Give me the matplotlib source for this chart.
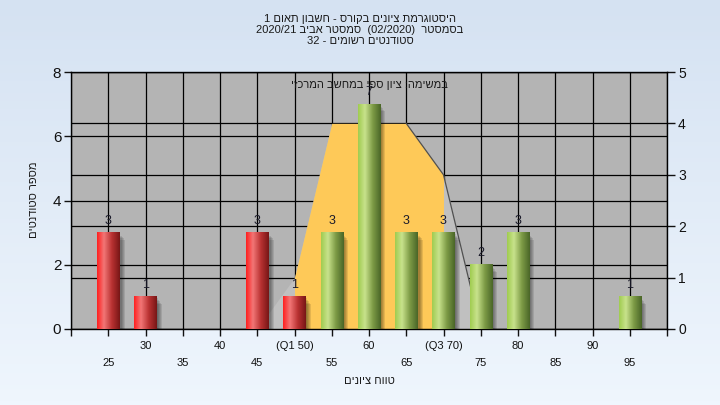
import re
import matplotlib
matplotlib.use('Agg')
import matplotlib.pyplot as plt
import numpy as np
from matplotlib.patches import Rectangle

plt.rcParams['font.family'] = ['Liberation Sans', 'DejaVu Sans']

# histogram data
grades = [25, 30, 35, 40, 45, 50, 55, 60, 65, 70, 75, 80, 85, 90, 95]
counts = [3, 1, 0, 0, 3, 1, 3, 7, 3, 3, 2, 3, 0, 0, 1]
tick_labels = ['25', '30', '35', '40', '45', '(Q1 50)', '55', '60', '65',
               '(Q3 70)', '75', '80', '85', '90', '95']
pass_grade = 55

# area on secondary axis (0-5)
area_x = [45, 50, 55, 60, 65, 70, 75]
area_y = [0, 1, 4, 4, 4, 3, 0]
q1, q3 = 50, 70

title_lines = ['היסטוגרמת ציונים בקורס - חשבון תאום 1',
               'בסמסטר  (02/2020)  סמסטר אביב 2020/21',
               'סטודנטים רשומים - 32']
note = 'במשימה: ציון ספי במחשב המרכזי'
xlabel = 'טווח ציונים'
ylabel = 'מספר סטודנטים'


def rtl(s):
    # crude bidi: matplotlib draws glyphs left to right only
    runs = re.split(r'([0-9A-Za-z](?:[0-9A-Za-z/.]*[0-9A-Za-z])?)', s)
    out = []
    mirror = str.maketrans('()', ')(')
    for i, r in enumerate(runs[::-1]):
        if re.fullmatch(r'[0-9A-Za-z](?:[0-9A-Za-z/.]*[0-9A-Za-z])?', r):
            out.append(r)
        else:
            out.append(r[::-1].translate(mirror))
    return ''.join(out)


def gradient(stops):
    pos = np.linspace(0, 1, 60)
    p = [s[0] for s in stops]
    rgb = np.array([[np.interp(t, p, [s[1][i] for s in stops]) for i in range(3)] for t in pos])
    return (rgb / 255.0)[None, :, :]


red_grad = gradient([(0, (255, 32, 32)), (0.3, (242, 118, 118)), (0.65, (185, 50, 50)), (1, (120, 22, 22))])
green_grad = gradient([(0, (160, 204, 80)), (0.3, (200, 226, 140)), (0.65, (125, 155, 70)), (1, (74, 102, 40))])

fig = plt.figure(figsize=(7.2, 4.05), dpi=100)

# background gradient
bg = fig.add_axes([0, 0, 1, 1], zorder=-10)
bgcol = np.linspace(np.array([213, 226, 242]), np.array([239, 246, 253]), 100) / 255.0
bg.imshow(bgcol[:, None, :], aspect='auto', extent=[0, 1, 0, 1])
bg.axis('off')

rect = [71 / 720, 1 - 329 / 405, 596 / 720, 257 / 405]
ax = fig.add_axes(rect)
ax.set_facecolor('#b4b4b4')
ax.set_xlim(20, 100)
ax.set_ylim(0, 8)
ax.set_xticks([20] + grades[1::2] + [100], [''] + tick_labels[1::2] + [''])
ax.set_xticks(grades[0::2], tick_labels[0::2], minor=True)
ax.tick_params(axis='x', which='both', length=5, width=1, labelsize=8, colors='#111111')
ax.tick_params(axis='x', which='major', pad=3.5)
ax.tick_params(axis='x', which='minor', pad=16)
ax.set_yticks([0, 2, 4, 6, 8])
ax.tick_params(axis='y', length=5, width=1, labelsize=11, pad=2, colors='#111111')
ax.grid(True, which='both', axis='x', color='black', lw=0.9)
ax.grid(True, axis='y', color='black', lw=0.9)
ax.set_axisbelow(True)
for s in ax.spines.values():
    s.set_visible(False)

# secondary axis with the area
ax2 = ax.twinx()
ax2.set_ylim(0, 5)
ax2.set_yticks([0, 1, 2, 3, 4, 5])
ax2.tick_params(axis='y', length=6, width=1, labelsize=10, pad=2, colors='#111111')
ax2.grid(True, axis='y', color='black', lw=0.9)
ax2.set_axisbelow(True)
ax2.patch.set_visible(False)
for s in ax2.spines.values():
    s.set_visible(False)
ax2.fill_between(area_x, area_y, color='#c0c0c0', lw=0, zorder=2)
ax_iqr = [x for x in area_x if q1 <= x <= q3]
ay_iqr = [y for x, y in zip(area_x, area_y) if q1 <= x <= q3]
ax2.fill_between(ax_iqr, ay_iqr, color='#fec958', lw=0, zorder=3)
ax2.plot(area_x[4:], area_y[4:], color='#505050', lw=0.9, zorder=4)

# bars axis
ax3 = ax.twinx()
ax3.patch.set_visible(False)
ax3.set_yticks([])
ax3.tick_params(axis='x', which='both', length=0, labelbottom=False)
for s in ax3.spines.values():
    s.set_color('black')
    s.set_linewidth(1)

w = 3.0
for g, c in zip(grades, counts):
    if c == 0:
        continue
    # soft shadow
    for k in range(1, 6):
        ax3.add_patch(Rectangle((g - w / 2 + 0.14 * k, 0), w, c - 0.045 * k,
                                color='black', alpha=0.1, lw=0, zorder=2))
    grad = green_grad if g >= pass_grade else red_grad
    ax3.imshow(grad, extent=[g - w / 2, g + w / 2, 0, c], aspect='auto', zorder=3)
    ax3.annotate(str(c), (g, c), xytext=(0, 8.5), textcoords='offset points',
                 ha='center', va='center', fontsize=9, color='#1a1a2a', zorder=5)

ax3.set_xlim(20, 100)
ax3.set_ylim(0, 8)
ax3.text(0.5, 0.949, rtl(note), transform=ax3.transAxes, ha='center', va='center',
         fontsize=8, color='#1a1a1a', zorder=6)

fig.text(0.5, 1 - 30 / 405, '\n'.join(rtl(t) for t in title_lines), ha='center',
         va='center', fontsize=8, linespacing=1.15, color='#1a1a1a')
fig.text(34 / 720, 1 - 200 / 405, rtl(ylabel), rotation=90, ha='center',
         va='center', fontsize=8, color='#1a1a1a')
fig.text(369 / 720, 1 - 381 / 405, rtl(xlabel), ha='center', va='center',
         fontsize=8, color='#1a1a1a')

fig.savefig('out.png', dpi=100)
